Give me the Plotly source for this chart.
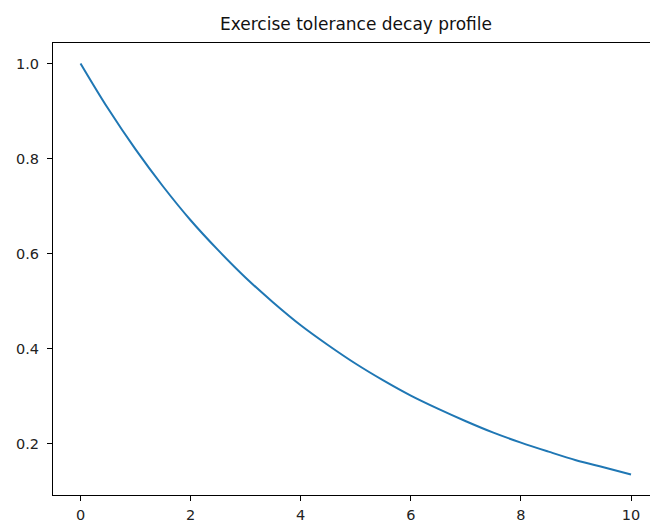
import plotly.graph_objects as go

x_vals = [0, 0.5, 1, 1.5, 2, 2.5, 3, 3.5, 4, 4.5, 5, 5.5, 6, 6.5, 7, 7.5, 8, 8.5, 9, 9.5, 10]
tolerance = [1.0, 0.905, 0.819, 0.741, 0.670, 0.607, 0.549, 0.497, 0.449, 0.407, 0.368,
             0.333, 0.301, 0.273, 0.247, 0.223, 0.202, 0.183, 0.165, 0.150, 0.135]
x_ticks = [0, 2, 4, 6, 8, 10]
y_ticks = [0.2, 0.4, 0.6, 0.8, 1.0]
title_text = "Exercise tolerance decay profile"

fig = go.Figure()
fig.add_trace(go.Scatter(x=x_vals, y=tolerance, mode="lines",
                         line=dict(color="#1f77b4", width=2, shape="spline"),
                         showlegend=False))

axis_common = dict(showgrid=False, zeroline=False, showline=True, linecolor="black",
                   linewidth=1, ticks="outside", ticklen=5, tickwidth=1, tickcolor="black",
                   tickfont=dict(family="DejaVu Sans", size=14.5, color="#222222"))

fig.update_layout(
    width=650, height=525,
    margin=dict(l=53, r=0, t=43, b=30),
    plot_bgcolor="white", paper_bgcolor="white",
    title=dict(text=title_text, x=356/650, xanchor="center", y=1-24/525, yanchor="middle",
               font=dict(family="DejaVu Sans", size=17, color="#111111")),
    xaxis=dict(range=[-0.5, 10.345], tickvals=x_ticks, ticktext=[str(v) for v in x_ticks],
               mirror=True, ticklabelstandoff=2, **axis_common),
    yaxis=dict(range=[0.0918, 1.043], tickvals=y_ticks, ticktext=[f"{v:.1f}" for v in y_ticks],
               mirror=False, ticklabelstandoff=5, **axis_common),
)

fig.write_html("out.html")
